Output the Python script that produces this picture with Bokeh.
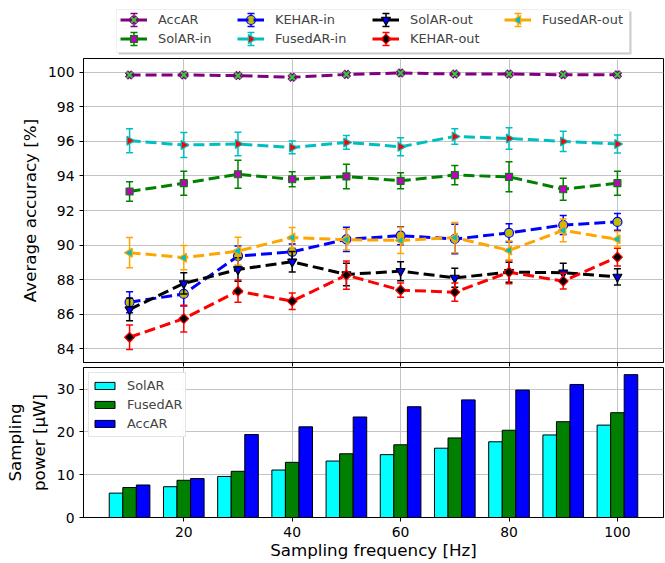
import numpy as np
from bokeh.plotting import figure
from bokeh.models import ColumnDataSource, Range1d, Legend, LegendItem, BoxAnnotation
from bokeh.layouts import column
from bokeh.embed import file_html
from bokeh.resources import INLINE
from bokeh.transform import dodge

# Sampling frequencies [Hz]
freq = [10, 20, 30, 40, 50, 60, 70, 80, 90, 100]

# Average accuracy [%] and error half-widths per configuration
acc_ar = [99.85, 99.85, 99.81, 99.71, 99.88, 99.96, 99.90, 99.90, 99.86, 99.86]
acc_ar_err = [0.05, 0.05, 0.05, 0.05, 0.05, 0.04, 0.04, 0.04, 0.04, 0.04]

solar_in = [93.10, 93.58, 94.10, 93.81, 93.97, 93.72, 94.05, 93.95, 93.23, 93.58]
solar_in_err = [0.57, 0.69, 0.81, 0.44, 0.71, 0.46, 0.56, 0.87, 0.64, 0.69]

kehar_in = [86.69, 87.17, 89.36, 89.61, 90.33, 90.54, 90.35, 90.70, 91.16, 91.34]
kehar_in_err = [0.61, 0.70, 0.58, 0.45, 0.70, 0.52, 0.85, 0.53, 0.55, 0.49]

fusedar_in = [96.04, 95.79, 95.85, 95.65, 95.94, 95.69, 96.29, 96.17, 96.00, 95.85]
fusedar_in_err = [0.70, 0.72, 0.68, 0.37, 0.40, 0.52, 0.45, 0.62, 0.59, 0.52]

solar_out = [86.27, 87.78, 88.59, 89.03, 88.30, 88.49, 88.10, 88.43, 88.40, 88.16]
solar_out_err = [0.65, 0.61, 0.68, 0.59, 0.65, 0.55, 0.55, 0.58, 0.55, 0.47]

kehar_out = [84.66, 85.74, 87.33, 86.75, 88.26, 87.39, 87.27, 88.43, 87.91, 89.30]
kehar_out_err = [0.71, 0.78, 0.64, 0.48, 0.82, 0.41, 0.53, 0.67, 0.46, 0.52]

fusedar_out = [89.56, 89.27, 89.65, 90.43, 90.31, 90.27, 90.43, 89.69, 90.85, 90.33]
fusedar_out_err = [0.87, 0.70, 0.80, 0.58, 0.60, 0.76, 0.87, 0.55, 0.66, 0.45]

# Sampling power [uW]
power_solar = [5.7, 7.2, 9.6, 11.1, 13.2, 14.7, 16.2, 17.7, 19.3, 21.6]
power_fused = [7.0, 8.7, 10.8, 12.9, 14.9, 17.0, 18.6, 20.4, 22.4, 24.5]
power_acc = [7.6, 9.1, 19.4, 21.2, 23.5, 25.9, 27.5, 29.8, 31.1, 33.4]

acc_ticks = [84, 86, 88, 90, 92, 94, 96, 98, 100]
power_ticks = [0, 10, 20, 30]
freq_ticks = [20, 40, 60, 80, 100]

FONT = "DejaVu Sans"
GRID = "#c4c4c4"
TICK_PX = "13.9px"
LABEL_PX = "16.7px"
LEGEND_PX = "12.9px"


def style(p):
    p.outline_line_color = "black"
    p.outline_line_width = 1
    for ax in (p.xaxis, p.yaxis):
        ax.axis_line_color = "black"
        ax.major_tick_line_color = "black"
        ax.major_tick_out = 4
        ax.major_tick_in = 0
        ax.minor_tick_line_color = None
        ax.major_label_text_font = FONT
        ax.major_label_text_font_size = TICK_PX
        ax.major_label_text_color = "black"
        ax.axis_label_text_font = FONT
        ax.axis_label_text_font_size = LABEL_PX
        ax.axis_label_text_font_style = "normal"
        ax.axis_label_text_color = "black"
    p.xgrid.grid_line_color = GRID
    p.ygrid.grid_line_color = GRID
    p.xgrid.grid_line_width = 1
    p.ygrid.grid_line_width = 1
    p.background_fill_color = "white"
    p.border_fill_color = "white"


def draw_line(p, src, lc):
    return p.line("x", "y", source=src, line_color=lc, line_width=3, line_dash="11 5")


def draw_markers(p, src, marker, ang, fill, edge):
    if marker == "x":
        p.scatter("x", "y", source=src, marker="x", size=9, line_color=edge, line_width=4.5)
        p.scatter("x", "y", source=src, marker="x", size=8, line_color=fill, line_width=2)
    else:
        size = 7 if marker == "square" else 9
        p.scatter("x", "y", source=src, marker=marker, size=size, angle=float(ang),
                  fill_color=fill, line_color=edge, line_width=1.2)


def draw_errorbars(p, src, lc):
    p.segment("x", "lo", "x", "hi", source=src, line_color=lc, line_width=1.5)
    p.scatter("x", "lo", source=src, marker="dash", size=7, line_color=lc, line_width=1.5)
    p.scatter("x", "hi", source=src, marker="dash", size=7, line_color=lc, line_width=1.5)


x_range = Range1d(1.5, 108.5)

series = [
    ("AccAR", acc_ar, acc_ar_err, "#800080", "x", 0.0, "#33cc33", "#800080"),
    ("SolAR-in", solar_in, solar_in_err, "#008000", "square", 0.0, "#bf00bf", "#008000"),
    ("KEHAR-in", kehar_in, kehar_in_err, "#0000ff", "circle", 0.0, "#bfbf00", "#0000ff"),
    ("FusedAR-in", fusedar_in, fusedar_in_err, "#00bfbf", "triangle", -np.pi / 2, "#ff0000", "#00bfbf"),
    ("SolAR-out", solar_out, solar_out_err, "#000000", "inverted_triangle", 0.0, "#0000ff", "#000000"),
    ("KEHAR-out", kehar_out, kehar_out_err, "#ff0000", "square", np.pi / 4, "#000000", "#ff0000"),
    ("FusedAR-out", fusedar_out, fusedar_out_err, "#ffa500", "triangle", np.pi / 2, "#00bfbf", "#ffa500"),
]

# ---- legend strip above the accuracy plot (its coordinates are pixels) ----
p0 = figure(width=665, height=58, x_range=Range1d(83, 663), y_range=Range1d(58, 0),
            output_backend="svg", toolbar_location=None, min_border_left=83,
            min_border_right=2, min_border_top=0, min_border_bottom=0)
p0.axis.visible = False
p0.grid.visible = False
p0.outline_line_color = None
p0.background_fill_color = "white"
p0.border_fill_color = "white"
p0.add_layout(BoxAnnotation(left=118, right=631, top=11, bottom=54, level="underlay",
                            fill_color="#808080", fill_alpha=0.4, line_color=None))
p0.add_layout(BoxAnnotation(left=116, right=629, top=9, bottom=52, level="underlay",
                            fill_color="white", fill_alpha=1.0,
                            line_color="#cccccc", line_width=1))

# ---- accuracy panel ----
p1 = figure(width=665, height=309, x_range=x_range,
            y_range=Range1d(83.2, 100.8), output_backend="svg",
            toolbar_location=None, min_border_left=83, min_border_right=2,
            min_border_bottom=5, min_border_top=0)
style(p1)
p1.xaxis.ticker = freq_ticks
p1.xaxis.major_label_text_font_size = "1px"
p1.xaxis.major_label_text_alpha = 0
p1.xaxis.major_label_standoff = 0
p1.yaxis.ticker = acc_ticks
p1.yaxis.axis_label = "Average accuracy [%]"

# legend layout: four columns filled top to bottom
col_left = [120, 237, 372, 504]
key_w, row_h, row_top = 27, 19, 10

legend_items = []
for i, (name, y, err, lc, marker, ang, fill, edge) in enumerate(series):
    y = np.asarray(y, dtype=float)
    e = np.asarray(err, dtype=float)
    src = ColumnDataSource(dict(x=freq, y=list(y), lo=list(y - e), hi=list(y + e)))
    draw_line(p1, src, lc)
    draw_errorbars(p1, src, lc)
    draw_markers(p1, src, marker, ang, fill, edge)

    # legend key: dashed line from the legend, error bar and marker on top
    key_line = draw_line(p0, src, lc)  # data lies outside the strip's range
    legend_items.append(LegendItem(label=name, renderers=[key_line]))
    kx = col_left[i // 2] + key_w / 2
    ky = row_top + row_h * (i % 2) + row_h / 2
    ksrc = ColumnDataSource(dict(x=[kx], y=[ky], lo=[ky - 6.5], hi=[ky + 6.5]))
    draw_errorbars(p0, ksrc, lc)
    draw_markers(p0, ksrc, marker, ang, fill, edge)

for c, lx in enumerate(col_left):
    its = legend_items[2 * c:2 * c + 2]
    ly = 58 - row_top - row_h * len(its)
    p0.add_layout(Legend(items=its, location=(lx - 83, ly), orientation="vertical",
                         level="underlay",
                         label_text_font=FONT, label_text_font_size=LEGEND_PX,
                         label_height=row_h, glyph_height=row_h, glyph_width=key_w,
                         spacing=0, padding=0, margin=0, label_standoff=11,
                         border_line_color=None, background_fill_alpha=0))

# ---- power panel ----
p2 = figure(width=665, height=196, x_range=x_range,
            y_range=Range1d(0, 35.07), output_backend="svg",
            toolbar_location=None, min_border_left=83, min_border_right=2,
            min_border_top=0, min_border_bottom=46)
style(p2)
p2.xaxis.ticker = freq_ticks
p2.xaxis.major_label_standoff = 5
p2.xaxis.axis_label_standoff = 0
p2.yaxis.ticker = power_ticks
p2.xaxis.axis_label = "Sampling frequency [Hz]"
p2.yaxis.axis_label = "Sampling\npower [μW]"

bsrc = ColumnDataSource(dict(x=freq, solar=power_solar, fused=power_fused, acc=power_acc))
b1 = p2.vbar(x=dodge("x", -2.5, range=x_range), top="solar", width=2.5, source=bsrc,
             fill_color="#00ffff", line_color="black", line_width=1)
b2 = p2.vbar(x=dodge("x", 0.0, range=x_range), top="fused", width=2.5, source=bsrc,
             fill_color="#008000", line_color="black", line_width=1)
b3 = p2.vbar(x=dodge("x", 2.5, range=x_range), top="acc", width=2.5, source=bsrc,
             fill_color="#0000ff", line_color="black", line_width=1)

leg2 = Legend(items=[LegendItem(label="SolAR", renderers=[b1]),
                     LegendItem(label="FusedAR", renderers=[b2]),
                     LegendItem(label="AccAR", renderers=[b3])],
              location="top_left", label_text_font=FONT, label_text_font_size=LEGEND_PX,
              label_height=19, glyph_height=9, glyph_width=25, spacing=0,
              padding=3, margin=5, border_line_color="#cccccc", label_standoff=10)
p2.add_layout(leg2)

layout = column(p0, p1, p2, spacing=0)
open("out.html", "w").write(file_html(layout, INLINE))
